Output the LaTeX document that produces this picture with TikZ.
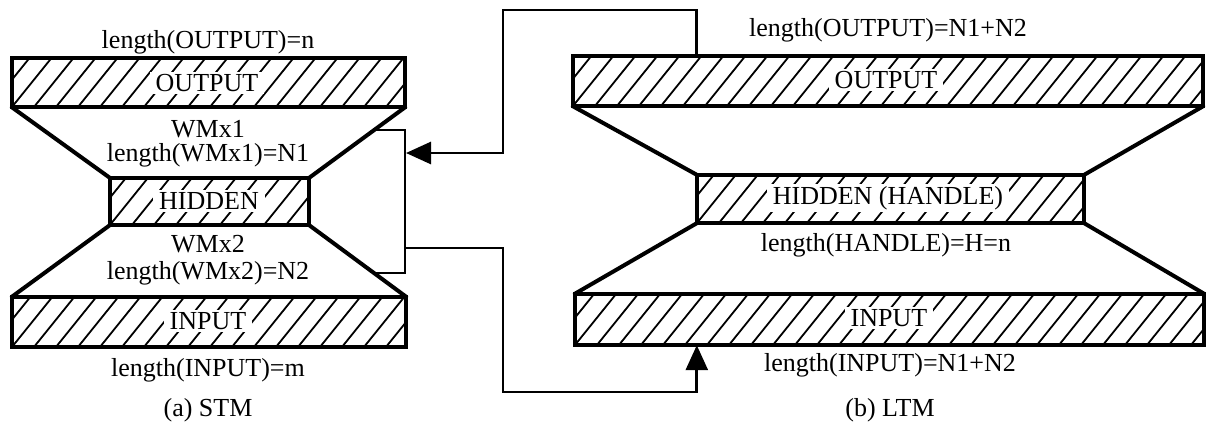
\documentclass[tikz,border=0pt]{standalone}
\usepackage{fontspec}
\setmainfont{Liberation Serif}
\usetikzlibrary{arrows.meta,calc}
\newcommand\hatchin[1]{%
  \begin{scope}
    \clip (#1.south west) rectangle (#1.north east);
    \foreach \i in {-40,...,40}{\draw[hatchline] ([xshift=\i*22pt]#1.south west) -- ++(50pt,62pt);}
  \end{scope}
  \draw[boxline] (#1.south west) rectangle (#1.north east);}
\begin{document}
\begin{tikzpicture}[x=1pt,y=-1pt,
  hatchbox/.style={inner sep=0pt},
  hatchline/.style={line width=1.8pt},
  boxline/.style={line width=3.5pt},
  lbl/.style={font=\fontsize{26}{24}\selectfont, inner sep=0.5pt, align=center},
  boxlbl/.style={lbl, fill=white, inner xsep=6pt, inner ysep=2pt},
  slant/.style={line width=4pt, line cap=round},
  wire/.style={line width=2.8pt},
  tip/.style={-{Triangle[length=25pt,width=22pt]}}
]
\useasboundingbox (0,0) rectangle (1206,429);

% ---------- (a) STM ----------
\node[hatchbox, minimum width=393pt, minimum height=49pt] (OUTL) at (208.5,82.5) {};
\node[hatchbox, minimum width=199pt, minimum height=47pt] (HIDL) at (209.5,201.5) {};
\node[hatchbox, minimum width=394pt, minimum height=50pt] (INL) at (209,322) {};
\hatchin{OUTL}\hatchin{HIDL}\hatchin{INL}
\draw[slant] (OUTL.south west) -- (HIDL.north west);
\draw[slant] (OUTL.south east) -- (HIDL.north east);
\draw[slant] (HIDL.south west) -- (INL.north west);
\draw[slant] (HIDL.south east) -- (INL.north east);
\node[boxlbl] (tOUTL) at (207,83) {OUTPUT};
\node[boxlbl] (tHIDL) at (209,201) {HIDDEN};
\node[boxlbl] (tINL) at (208,321) {INPUT};
\node[lbl] (lOUTL) at (208,42) {length(OUTPUT)=n};
\node[lbl] (w1) at (208,144) {WMx1\\length(WMx1)=N1};
\node[lbl, font=\fontsize{26}{27}\selectfont] (w2) at (208,260.5) {WMx2\\length(WMx2)=N2};
\node[lbl] (lINL) at (208,370) {length(INPUT)=m};
\node[lbl] (capa) at (208,410) {(a) STM};

% ---------- (b) LTM ----------
\node[hatchbox, minimum width=630pt, minimum height=50pt] (OUTR) at (888,81) {};
\node[hatchbox, minimum width=387pt, minimum height=48pt] (HIDR) at (890.5,199) {};
\node[hatchbox, minimum width=629pt, minimum height=51pt] (INR) at (889.5,319.5) {};
\hatchin{OUTR}\hatchin{HIDR}\hatchin{INR}
\draw[slant] (OUTR.south west) -- (HIDR.north west);
\draw[slant] (OUTR.south east) -- (HIDR.north east);
\draw[slant] (HIDR.south west) -- (INR.north west);
\draw[slant] (HIDR.south east) -- (INR.north east);
\node[boxlbl] (tOUTR) at (886,80) {OUTPUT};
\node[boxlbl] (tHIDR) at (888,198) {HIDDEN (HANDLE)};
\node[boxlbl] (tINR) at (889,318) {INPUT};
\node[lbl] (lOUTR) at (888,30) {length(OUTPUT)=N1+N2};
\node[lbl] (lHIDR) at (886,245) {length(HANDLE)=H=n};
\node[lbl] (lINR) at (890,365) {length(INPUT)=N1+N2};
\node[lbl] (capb) at (890,410) {(b) LTM};

% ---------- connectors ----------
\coordinate (b1) at ($(OUTL.south east)!0.324!(HIDL.north east)$);
\coordinate (b2) at ($(HIDL.south east)!0.667!(INL.north east)$);
\coordinate (bx) at (405,0);
\draw[wire] (b1) -- (b1 -| bx) -- (b2 -| bx) -- (b2);
\coordinate (ain) at (406,153);
\coordinate (aout) at (405,248);
\draw[wire, tip] (HIDR.north west |- OUTR.north) |- (503,10) |- (ain);
\draw[wire, tip] (aout) -| (503,392) -| (HIDR.south west |- INR.south);
\end{tikzpicture}
\end{document}
